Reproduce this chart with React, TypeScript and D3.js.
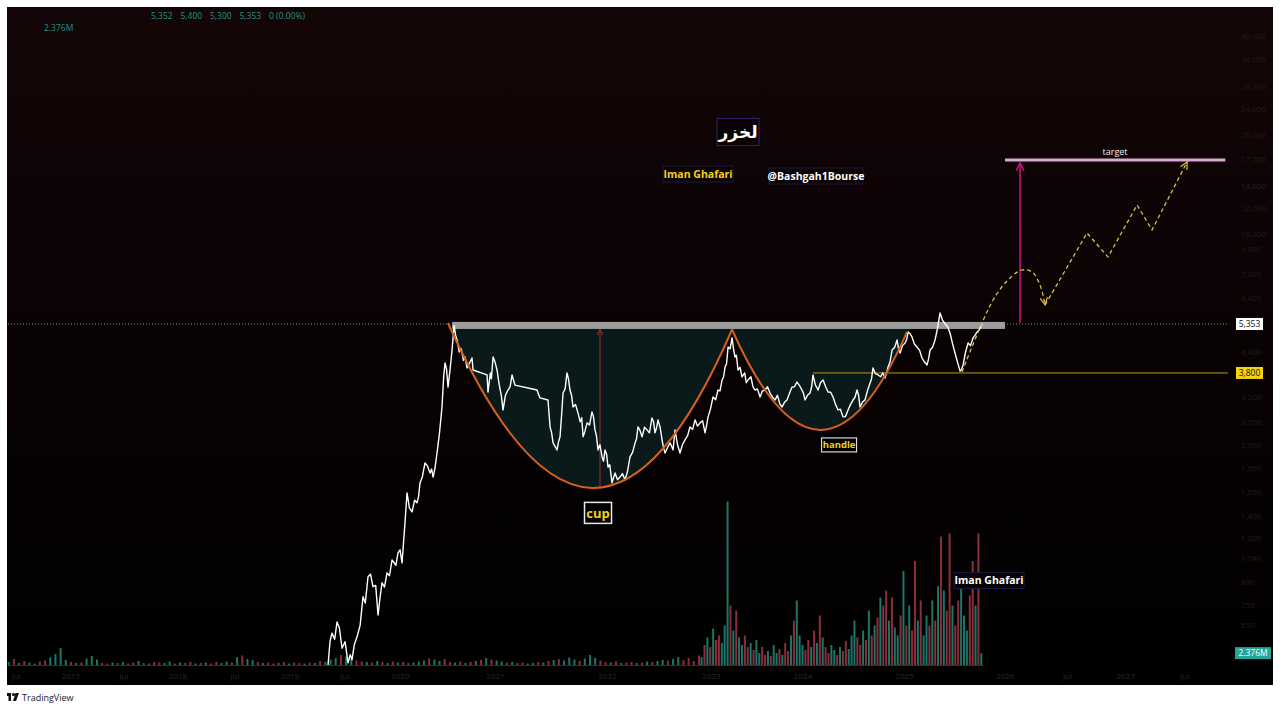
import React from "react";
import * as d3 from "d3";

const W = 1280;
const H = 709;

// ---------- price series (decimal year, price) ----------
const priceYears = [
  2019.476, 2019.495, 2019.514, 2019.540, 2019.563, 2019.585, 2019.611, 2019.640, 2019.669, 2019.690,
  2019.707, 2019.730, 2019.755, 2019.785, 2019.813, 2019.835, 2019.861, 2019.885, 2019.909, 2019.935,
  2019.958, 2019.975, 2019.996, 2020.020, 2020.044, 2020.068, 2020.093, 2020.130, 2020.150, 2020.170,
  2020.189, 2020.215, 2020.237, 2020.260, 2020.285, 2020.310, 2020.333, 2020.348, 2020.362, 2020.385,
  2020.410, 2020.435, 2020.459, 2020.474, 2020.488, 2020.506, 2020.526, 2020.550, 2020.574, 2020.590,
  2020.603, 2020.618, 2020.632, 2020.652, 2020.671, 2020.690, 2020.705, 2020.719, 2020.740, 2020.760,
  2020.780, 2020.796, 2020.815, 2020.863, 2020.873, 2021.008, 2021.017, 2021.040, 2021.050, 2021.066,
  2021.085, 2021.104, 2021.125, 2021.145, 2021.162, 2021.185, 2021.210, 2021.230, 2021.249, 2021.277,
  2021.489, 2021.518, 2021.595, 2021.615, 2021.630, 2021.644, 2021.682, 2021.697, 2021.711, 2021.725,
  2021.740, 2021.760, 2021.778, 2021.792, 2021.807, 2021.822, 2021.836, 2021.860, 2021.884, 2021.905,
  2021.920, 2021.933, 2021.950, 2021.971, 2021.995, 2022.019, 2022.033, 2022.048, 2022.062, 2022.077,
  2022.095, 2022.116, 2022.130, 2022.145, 2022.160, 2022.173, 2022.190, 2022.212, 2022.225, 2022.241,
  2022.265, 2022.289, 2022.312, 2022.337, 2022.360, 2022.385, 2022.410, 2022.434, 2022.448, 2022.462,
  2022.480, 2022.501, 2022.525, 2022.549, 2022.572, 2022.597, 2022.612, 2022.626, 2022.640, 2022.655,
  2022.675, 2022.694, 2022.708, 2022.723, 2022.745, 2022.771, 2022.785, 2022.800, 2022.819, 2022.843,
  2022.867, 2022.890, 2022.915, 2022.940, 2022.963, 2022.988, 2023.012, 2023.035, 2023.060, 2023.085,
  2023.108, 2023.122, 2023.137, 2023.160, 2023.185, 2023.210, 2023.233, 2023.252, 2023.272, 2023.287,
  2023.301, 2023.315, 2023.330, 2023.350, 2023.368, 2023.382, 2023.397, 2023.410, 2023.426, 2023.445,
  2023.464, 2023.490, 2023.505, 2023.522, 2023.550, 2023.570, 2023.590, 2023.612, 2023.638, 2023.660,
  2023.686, 2023.710, 2023.734, 2023.760, 2023.782, 2023.805, 2023.830, 2023.850, 2023.875, 2023.898,
  2023.922, 2023.946, 2023.970, 2023.994, 2024.018, 2024.042, 2024.056, 2024.071, 2024.095, 2024.120,
  2024.135, 2024.148, 2024.170, 2024.197, 2024.220, 2024.245, 2024.270, 2024.293, 2024.318, 2024.341,
  2024.365, 2024.389, 2024.412, 2024.437, 2024.460, 2024.486, 2024.510, 2024.534, 2024.552, 2024.572,
  2024.587, 2024.601, 2024.625, 2024.649, 2024.672, 2024.698, 2024.712, 2024.726, 2024.750, 2024.775,
  2024.800, 2024.820, 2024.842, 2024.856, 2024.871, 2024.890, 2024.910, 2024.935, 2024.958, 2024.972,
  2024.987, 2025.010, 2025.035, 2025.050, 2025.064, 2025.083, 2025.102, 2025.125, 2025.150, 2025.175,
  2025.198, 2025.222, 2025.247, 2025.262, 2025.276, 2025.300, 2025.324, 2025.348, 2025.372, 2025.395,
  2025.420, 2025.445, 2025.468, 2025.490, 2025.516, 2025.540, 2025.565, 2025.580, 2025.594, 2025.618,
  2025.642, 2025.665, 2025.690, 2025.710, 2025.729, 2025.752, 2025.777,
];
const priceValues = [
  493, 580, 616, 590, 666, 640, 554, 580, 500, 530,
  511, 570, 599, 650, 794, 760, 913, 930, 852, 860,
  699, 780, 876, 850, 939, 920, 1028, 990, 1080, 1103,
  1007, 1300, 1642, 1480, 1438, 1560, 1532, 1600, 1761, 1840,
  2025, 1980, 1888, 1940, 1835, 1950, 2171, 2500, 2996, 3700,
  4075, 3900, 3442, 3900, 4464, 5300, 4950, 4786, 4400, 4500,
  4150, 4250, 3935, 4219, 3880, 3747, 3325, 3800, 3650, 4250,
  4100, 3880, 3500, 3250, 2934, 3250, 3372, 3450, 3747, 3491,
  3372, 3191, 3146, 2606, 2500, 2330, 2218, 2350, 2431, 2800,
  3302, 3400, 3800, 3650, 3372, 3250, 2996, 3050, 2873, 2700,
  2780, 2431, 2520, 2680, 2640, 2893, 2800, 2552, 2450, 2218,
  2300, 2112, 2050, 2218, 2150, 1969, 2000, 1761, 1820, 1888,
  1800, 1835, 1880, 1799, 1900, 2112, 2180, 2330, 2400, 2606,
  2550, 2431, 2600, 2552, 2500, 2775, 2700, 2500, 2580, 2737,
  2600, 2380, 2250, 2171, 2250, 2330, 2280, 2218, 2552, 2300,
  2171, 2300, 2380, 2450, 2606, 2560, 2737, 2620, 2680, 2720,
  2500, 2620, 2795, 2950, 3213, 3150, 3372, 3350, 3617, 3700,
  3963, 4050, 4557, 4500, 4854, 4500, 4250, 4300, 3880, 3950,
  3695, 3800, 3550, 3617, 3700, 3450, 3372, 3400, 3213, 3350,
  3372, 3450, 3302, 3200, 3146, 3250, 3050, 2996, 3100, 3146,
  3300, 3442, 3450, 3566, 3480, 3372, 3300, 3146, 3250, 3302,
  3450, 3747, 3500, 3372, 3550, 3617, 3450, 3325, 3320, 3213,
  3050, 2934, 2950, 2795, 2800, 2934, 3050, 3146, 3200, 3372,
  3250, 2996, 3100, 3146, 3350, 3541, 3650, 3935, 3780, 3747,
  3700, 3800, 3669, 3800, 3963, 4100, 4464, 4550, 4786, 4500,
  4370, 4600, 4688, 4800, 5062, 5000, 4888, 4650, 4557, 4450,
  4219, 4100, 4019, 4200, 4464, 4550, 4786, 5200, 5781, 5500,
  5360, 5250, 5026, 4700, 4370, 4100, 3850, 3900, 4019, 4400,
  4688, 4600, 4854, 4950, 5062, 5150, 5353,
];

// ---------- volume (millions) ----------
const volQuietStart = 2016.4;
const volQuietStep = 0.05;
const volQuiet = [
  0.6, 1.2, 0.4, 0.8, 0.5, 0.3, 0.7, 0.9, 1.5, 2.2,
  3.4, 1.0, 0.6, 0.4, 0.5, 1.3, 1.8, 1.1, 0.4, 0.3,
  0.5, 0.4, 0.6, 0.3, 0.5, 0.8, 0.4, 0.3, 0.6, 0.5,
  0.4, 0.7, 0.3, 0.5, 0.4, 0.6, 0.3, 0.4, 0.5, 0.3,
  0.6, 0.4, 0.7, 0.5, 1.6, 1.9, 1.2, 1.0, 0.6, 0.4,
  0.5, 0.3, 0.4, 0.6, 0.3, 0.5, 0.4, 0.3, 0.5, 0.4,
  0.8, 0.6, 1.1, 1.4, 2.0, 1.7, 1.2, 0.9, 0.7, 0.6,
  0.5, 0.8, 0.6, 0.4, 0.7, 0.5, 0.6, 0.4, 0.5, 0.7,
  0.9, 1.3, 1.1, 0.8, 1.2, 0.6, 0.5, 0.7, 0.4, 0.6,
  0.8, 1.0, 1.4, 1.1, 0.9, 0.7, 0.5, 0.6, 0.4, 0.5,
  0.3, 0.4, 0.6, 0.5, 0.8, 1.0, 1.2, 0.9, 1.5, 1.1,
  0.8, 1.3, 2.0, 1.4, 0.9, 0.6, 0.5, 0.7, 0.4, 0.5,
  0.6, 0.4, 0.5, 0.7, 0.6, 0.8, 1.0, 0.9, 1.2, 1.6,
  1.0, 1.4, 0.8, 1.9,
];
const volQuietDir =
  "gr" + "grggrrgggg" + "rgrgggrrgr" + "grrgrgrrgg" + "rgrrgrgrrg" + "grgrggrgrr" + "grgrrgrgrg" +
  "ggrggrrgrg" + "rgrgrrgggr" + "ggrrgrgrgr" + "grggrgrrgg" + "rgrgrgggrg" + "ggrrgrgrrg" + "rgrgg" + "rggr";

const volActiveStart = 2023.075;
const volActiveStep = 1 / 36;
const volActive = [
  1.6, 4.0, 5.5, 3.6, 7.3, 5.0, 5.9, 4.4, 7.9, 32.7,
  11.9, 6.9, 10.9, 5.5, 4.0, 5.9, 3.6, 4.4, 3.0, 5.0,
  2.4, 3.6, 2.0, 2.8, 1.8, 4.0, 2.4, 3.2, 2.0, 4.4,
  2.8, 5.9, 8.9, 12.9, 5.9, 4.0, 3.0, 5.0, 3.6, 6.9,
  4.4, 9.9, 5.5, 3.6, 2.4, 4.0, 3.0, 2.0, 3.6, 2.8,
  4.8, 3.2, 5.9, 8.9, 5.5, 4.0, 6.9, 5.0, 10.9, 5.9,
  7.9, 9.5, 13.5, 11.9, 14.9, 8.9, 13.5, 7.5, 5.9, 9.9,
  18.8, 7.9, 11.9, 6.9, 20.8, 8.9, 12.9, 5.9, 9.9, 7.9,
  12.9, 8.9, 15.8, 25.7, 14.9, 10.9, 26.3, 11.9, 7.9, 12.9,
  16.8, 9.9, 6.9, 13.9, 20.8, 11.9, 26.3, 2.376,
];
const volActiveDir =
  "grgrgrrggg" + "rgrggrrgrg" + "grrgrggrgr" + "rgrgggrrgr" + "grgrrggrgr" + "rgggrrgrgr" +
  "grgrrgrggr" + "grgrrgrggr" + "grgrgrrgrr" + "gggrrgrgrg";

// ---------- levels & drawings ----------
const lastPrice = 5353;
const handleLevel = 3800;
const lastVolumeM = 2.376;
const targetPrice = 16850;
const bandPrices = [5170, 5430];
const bandYears = [2020.671, 2025.998];
const handleLineStart = 2024.148;
const targetYears = [2025.998, 2028.12];
const cupYears = [2020.632, 2022.019, 2023.368];
const cupPrices = [5390, 1701, 5150];
const handleYears = [2023.368, 2024.216, 2025.054];
const handlePrices = [5150, 2552, 5062];
const cupArrow = { year: 2022.096, from: 1701, to: 5150 };
const targetArrow = { year: 2026.143, from: 5400, to: 16503 };
const projYearsA = [2025.584, 2025.883, 2026.046, 2026.162, 2026.258, 2026.335, 2026.384];
const projPricesA = [3827, 6331, 7384, 7809, 7701, 7031, 6114];
const projYearsB = [2026.384, 2026.788, 2026.99, 2027.27, 2027.414, 2027.752];
const projPricesB = [6114, 10115, 8553, 12303, 10330, 16620];

// ---------- axes ----------
const priceTicks = [
  40000, 34000, 28000, 24000, 20000, 17000, 14000, 12000, 10000, 9000, 7600, 6400, 4400,
  3200, 2700, 2300, 1950, 1650, 1400, 1200, 1040, 880, 750, 650,
];
const timeTickPos = [
  2016.47, 2017.0, 2017.51, 2018.03, 2018.58, 2019.11, 2019.64, 2020.17, 2021.09, 2022.17, 2023.17,
  2024.05, 2025.03, 2026.0, 2026.6, 2027.16, 2027.73,
];
const timeTickLabels = [
  "Jul", "2017", "Jul", "2018", "Jul", "2019", "Jul", "2020", "2021", "2022", "2023", "2024", "2025",
  "2026", "Jul", "2027", "Jul",
];
const headerValues = ["5,352", "5,400", "5,300", "5,353", "0 (0.00%)"];

// ---------- text annotations (year, price) ----------
const notes = [
  { text: "لخزر", year: 2023.426, price: 20500, kind: "title" },
  { text: "Iman Ghafari", year: 2023.041, price: 15282, kind: "yellow" },
  { text: "@Bashgah1Bourse", year: 2024.177, price: 15069, kind: "white" },
  { text: "cup", year: 2022.077, price: 1428, kind: "cup" },
  { text: "handle", year: 2024.399, price: 2297, kind: "handle" },
  { text: "Iman Ghafari", year: 2025.844, price: 890, kind: "white" },
];
const targetLabel = { text: "target", year: 2027.058, price: 17822 };

const FONT = "'Open Sans', 'Noto Sans', sans-serif";

export default function App() {
  const paneLeft = 8;
  const paneRight = 1228;
  const paneTop = 7;
  const paneBottom = 667;
  const volBase = 665;

  const x = d3.scaleLinear().domain([2016.393, 2028.146]).range([paneLeft, paneRight]);
  const y = d3.scaleLog().domain([486, 49130]).range([paneBottom, paneTop]);
  const v = d3.scaleLinear().domain([0, 33]).range([volBase, 500]);

  const pricePts: [number, number][] = priceYears.map((t, i) => [t, priceValues[i]]);
  const line = d3
    .line<[number, number]>()
    .x((d) => x(d[0]))
    .y((d) => y(d[1]));

  const quad = (ys: number[], ps: number[]) => {
    const L = [x(ys[0]), y(ps[0])];
    const B = [x(ys[1]), y(ps[1])];
    const R = [x(ys[2]), y(ps[2])];
    const C = [2 * B[0] - (L[0] + R[0]) / 2, 2 * B[1] - (L[1] + R[1]) / 2];
    const p = d3.path();
    p.moveTo(L[0], L[1]);
    p.quadraticCurveTo(C[0], C[1], R[0], R[1]);
    return { d: p.toString(), L, R };
  };
  const cup = quad(cupYears, cupPrices);
  const handle = quad(handleYears, handlePrices);
  const fillTop = y(bandPrices[0]);
  const cupFill = `${cup.d} L${cup.R[0]},${fillTop} L${cup.L[0]},${fillTop} Z`;
  const handleFill = `${handle.d} L${handle.R[0]},${fillTop} L${handle.L[0]},${fillTop} Z`;

  const projA = d3
    .line<[number, number]>()
    .x((d) => x(d[0]))
    .y((d) => y(d[1]))
    .curve(d3.curveCatmullRom.alpha(0.5))(projYearsA.map((t, i) => [t, projPricesA[i]]));
  const projB = line(projYearsB.map((t, i) => [t, projPricesB[i]]));

  const volBars: { t: number; m: number; up: boolean }[] = [];
  volQuiet.forEach((m, i) =>
    volBars.push({ t: volQuietStart + i * volQuietStep, m, up: volQuietDir[i] === "g" })
  );
  volActive.forEach((m, i) =>
    volBars.push({ t: volActiveStart + i * volActiveStep, m, up: volActiveDir[i] === "g" })
  );

  const noteBox = (n: (typeof notes)[number], i: number) => {
    const cx = x(n.year);
    const cy = y(n.price);
    let w = 70, h = 16, fs = 10.5, color = "#fff", stroke = "#1c1a44", fill = "#0a0304", sw = 1, font = FONT;
    if (n.kind === "title") {
      w = 42; h = 27; fs = 17; stroke = "#2c2373"; font = "'DejaVu Sans', sans-serif";
    } else if (n.kind === "yellow") {
      w = 70; color = "#f2d21a";
    } else if (n.kind === "white") {
      w = n.text.length > 12 ? 94 : 70;
    } else if (n.kind === "cup") {
      w = 27; h = 21; fs = 13; color = "#f2d21a"; stroke = "#e8e8e8"; fill = "#000"; sw = 1.5;
    } else if (n.kind === "handle") {
      w = 35; h = 14; fs = 9.5; color = "#f2d21a"; stroke = "#d8d8d8"; fill = "#000"; sw = 1.2;
    }
    return (
      <g key={i}>
        <rect x={cx - w / 2} y={cy - h / 2} width={w} height={h} fill={fill} stroke={stroke} strokeWidth={sw} />
        <text
          x={cx}
          y={cy}
          dy="0.36em"
          textAnchor="middle"
          fill={color}
          fontFamily={font}
          fontWeight="bold"
          fontSize={fs}
        >
          {n.text}
        </text>
      </g>
    );
  };

  const fmt = d3.format(",");

  return (
    <svg
      width={W}
      height={H}
      style={{ position: "absolute", left: 0, top: 0, display: "block" }}
      xmlns="http://www.w3.org/2000/svg"
    >
      <defs>
        <linearGradient id="bg" x1="0" y1="0" x2="0" y2="1">
          <stop offset="0" stopColor="#140607" />
          <stop offset="0.5" stopColor="#090203" />
          <stop offset="1" stopColor="#000000" />
        </linearGradient>
        <marker id="arrRed" viewBox="0 0 10 10" refX="9" refY="5" markerWidth="6" markerHeight="6" orient="auto">
          <path d="M1,1 L9,5 L1,9" fill="none" stroke="#8a2c2c" strokeWidth="1.6" />
        </marker>
        <marker id="arrMag" viewBox="0 0 10 10" refX="9" refY="5" markerWidth="6" markerHeight="6" orient="auto">
          <path d="M1,1 L9,5 L1,9" fill="none" stroke="#c0187c" strokeWidth="1.6" />
        </marker>
        <marker id="arrYel" viewBox="0 0 10 10" refX="9" refY="5" markerWidth="7" markerHeight="7" orient="auto">
          <path d="M1,1 L9,5 L1,9" fill="none" stroke="#d8bf4c" strokeWidth="1.4" />
        </marker>
      </defs>

      <rect x={0} y={0} width={W} height={H} fill="#ffffff" />
      <rect x={7} y={7} width={1266} height={678} fill="url(#bg)" />

      {/* header */}
      <g fontFamily={FONT} fontSize={8.5} fill="#1f9384">
        {headerValues.map((s, i) => (
          <text key={i} x={151 + i * 29.5} y={19}>
            {s}
          </text>
        ))}
        <text x={44} y={31}>
          {fmt(lastVolumeM) + "M"}
        </text>
      </g>

      {/* cup & handle fills */}
      <path d={cupFill} fill="#0a1a1a" />
      <path d={handleFill} fill="#0a1a1a" />

      {/* volume */}
      <g>
        {volBars.map((b, i) => (
          <rect
            key={i}
            x={x(b.t) - 1}
            y={v(b.m)}
            width={2}
            height={volBase - v(b.m)}
            fill={b.up ? "#22a392" : "#c2404f"}
            opacity={0.72}
          />
        ))}
        <line x1={paneLeft} x2={x(2025.8)} y1={volBase + 0.5} y2={volBase + 0.5} stroke="#5a1c26" strokeWidth={1} />
      </g>

      {/* price dotted line */}
      <line
        x1={paneLeft}
        x2={paneRight}
        y1={y(lastPrice)}
        y2={y(lastPrice)}
        stroke="#8c8c8c"
        strokeWidth={1}
        strokeDasharray="1,2"
      />

      {/* resistance band */}
      <rect
        x={x(bandYears[0])}
        y={y(bandPrices[1])}
        width={x(bandYears[1]) - x(bandYears[0])}
        height={y(bandPrices[0]) - y(bandPrices[1])}
        fill="#9d9d9d"
      />

      {/* handle level line */}
      <line
        x1={x(handleLineStart)}
        x2={paneRight}
        y1={y(handleLevel)}
        y2={y(handleLevel)}
        stroke="#b79a16"
        strokeWidth={1}
      />

      {/* cup arrow */}
      <line
        x1={x(cupArrow.year)}
        x2={x(cupArrow.year)}
        y1={y(cupArrow.from)}
        y2={y(cupArrow.to)}
        stroke="#8a2c2c"
        strokeWidth={1.2}
        markerEnd="url(#arrRed)"
      />

      {/* price line */}
      <path d={line(pricePts) || ""} fill="none" stroke="#ffffff" strokeWidth={1.4} strokeLinejoin="round" />

      {/* cup & handle curves */}
      <path d={cup.d} fill="none" stroke="#d4601c" strokeWidth={2} />
      <path d={handle.d} fill="none" stroke="#d4601c" strokeWidth={2} />

      {/* target */}
      <line
        x1={x(targetYears[0])}
        x2={x(targetYears[1])}
        y1={y(targetPrice)}
        y2={y(targetPrice)}
        stroke="#d9a9d3"
        strokeWidth={3}
      />
      <line
        x1={x(targetArrow.year)}
        x2={x(targetArrow.year)}
        y1={y(targetArrow.from)}
        y2={y(targetArrow.to)}
        stroke="#c0187c"
        strokeWidth={1.6}
        markerEnd="url(#arrMag)"
      />
      <text
        x={x(targetLabel.year)}
        y={y(targetLabel.price)}
        dy="0.35em"
        textAnchor="middle"
        fill="#f0f0f0"
        fontFamily={FONT}
        fontSize={9}
      >
        {targetLabel.text}
      </text>

      {/* projection */}
      <path
        d={projA || ""}
        fill="none"
        stroke="#d8bf4c"
        strokeWidth={1.3}
        strokeDasharray="4,3"
        markerEnd="url(#arrYel)"
      />
      <path
        d={projB || ""}
        fill="none"
        stroke="#d8bf4c"
        strokeWidth={1.3}
        strokeDasharray="4,3"
        markerEnd="url(#arrYel)"
      />

      {/* notes */}
      {notes.map(noteBox)}

      {/* price axis labels */}
      <g fontFamily={FONT} fontSize={8} fill="#221d1d">
        {priceTicks.map((p, i) => (
          <text key={i} x={1241} y={y(p)} dy="0.35em">
            {fmt(p)}
          </text>
        ))}
      </g>
      {/* time axis labels */}
      <g fontFamily={FONT} fontSize={8} fill="#282828" textAnchor="middle">
        {timeTickPos.map((t, i) => (
          <text key={i} x={x(t)} y={679}>
            {timeTickLabels[i]}
          </text>
        ))}
      </g>

      {/* last price label */}
      <g fontFamily={FONT} fontSize={8.5}>
        <rect x={1236} y={y(lastPrice) - 6} width={27} height={12} fill="#ffffff" />
        <text x={1249.5} y={y(lastPrice)} dy="0.35em" textAnchor="middle" fill="#111">
          {fmt(lastPrice)}
        </text>
        <rect x={1236} y={y(handleLevel) - 6} width={27} height={12} fill="#f5d10f" />
        <text x={1249.5} y={y(handleLevel)} dy="0.35em" textAnchor="middle" fill="#111">
          {fmt(handleLevel)}
        </text>
        <rect x={1235} y={v(lastVolumeM) - 6} width={36} height={12} fill="#26a69a" />
        <text x={1253} y={v(lastVolumeM)} dy="0.35em" textAnchor="middle" fill="#fff">
          {lastVolumeM + "M"}
        </text>
      </g>

      {/* TradingView footer */}
      <g transform="translate(7,692)">
        <rect x={0} y={1} width={4} height={3} fill="#111" />
        <rect x={1.5} y={1} width={2.5} height={8} fill="#111" />
        <circle cx={6.5} cy={2.5} r={1.6} fill="#111" />
        <path d="M8.5,1 L12,1 L9,9 L6,9 Z" fill="#111" />
        <text x={15} y={8.5} fontFamily={FONT} fontSize={9} fill="#222">
          TradingView
        </text>
      </g>
    </svg>
  );
}
